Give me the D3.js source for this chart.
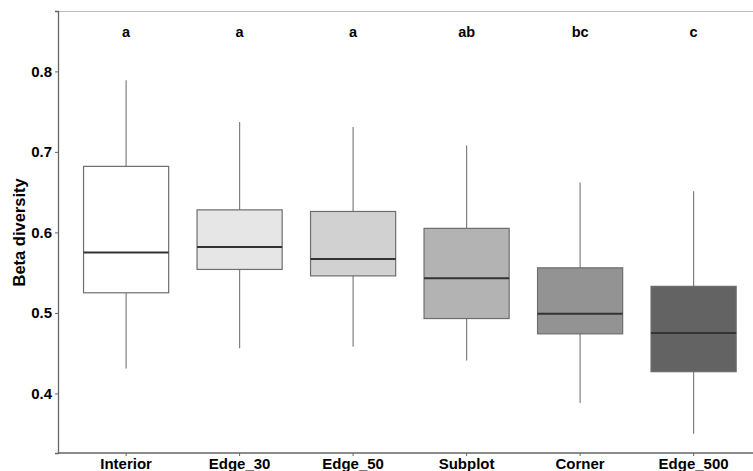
<!DOCTYPE html>
<html>
<head>
<meta charset="utf-8">
<script src="https://d3js.org/d3.v7.min.js"></script>
<style>
  body { margin: 0; background: #fff; }
  text { font-family: "Liberation Sans", Arial, sans-serif; font-weight: bold; fill: #000; }
</style>
</head>
<body>
<div id="my_dataviz"></div>
<script>
// data
var groups  = ["Interior", "Edge_30", "Edge_50", "Subplot", "Corner", "Edge_500"];
var lowers  = [0.431, 0.456, 0.458, 0.441, 0.388, 0.350];
var q1s     = [0.525, 0.554, 0.546, 0.493, 0.474, 0.427];
var medians = [0.575, 0.582, 0.567, 0.543, 0.499, 0.475];
var q3s     = [0.682, 0.628, 0.626, 0.605, 0.556, 0.533];
var uppers  = [0.789, 0.737, 0.731, 0.708, 0.662, 0.651];
var letters = ["a", "a", "a", "ab", "bc", "c"];
var fills   = ["#ffffff", "#e6e6e6", "#d1d1d1", "#b3b3b3", "#939393", "#636363"];
var yTicks  = [0.4, 0.5, 0.6, 0.7, 0.8];

var W = 753, H = 471;
var margin = {top: 11, left: 58, bottom: 18};
var step = 113.5;
var plotW = step * 6.2, plotH = H - margin.top - margin.bottom;

var svg = d3.select("#my_dataviz").append("svg")
  .attr("width", W).attr("height", H);

var g = svg.append("g")
  .attr("transform", "translate(" + margin.left + "," + margin.top + ")");

// ggplot style: 0.6 units before the first centre
var x = d3.scaleBand()
  .domain(groups)
  .range([0.1 * step, plotW - 0.1 * step])
  .padding(0);

var y = d3.scaleLinear()
  .domain([0.326, 0.875])
  .range([plotH, 0]);

var data = groups.map(function(d, i) {
  return {name: d, lo: lowers[i], q1: q1s[i], med: medians[i], q3: q3s[i], hi: uppers[i], lab: letters[i], fill: fills[i]};
});

// top border
g.append("line")
  .attr("x1", 0).attr("x2", plotW)
  .attr("y1", 0.5).attr("y2", 0.5)
  .attr("stroke", "#bdbdbd").attr("stroke-width", 1);

var bw = x.bandwidth() * 0.75;

var box = g.selectAll(".box").data(data).enter().append("g").attr("class", "box");

box.append("line")
  .attr("x1", function(d) { return x(d.name) + x.bandwidth() / 2; })
  .attr("x2", function(d) { return x(d.name) + x.bandwidth() / 2; })
  .attr("y1", function(d) { return y(d.hi); })
  .attr("y2", function(d) { return y(d.lo); })
  .attr("stroke", "#808080").attr("stroke-width", 1.2);

box.append("rect")
  .attr("x", function(d) { return x(d.name) + (x.bandwidth() - bw) / 2; })
  .attr("width", bw)
  .attr("y", function(d) { return y(d.q3); })
  .attr("height", function(d) { return y(d.q1) - y(d.q3); })
  .attr("fill", function(d) { return d.fill; })
  .attr("stroke", "#6e6e6e").attr("stroke-width", 1.2);

box.append("line")
  .attr("x1", function(d) { return x(d.name) + (x.bandwidth() - bw) / 2; })
  .attr("x2", function(d) { return x(d.name) + (x.bandwidth() + bw) / 2; })
  .attr("y1", function(d) { return y(d.med); })
  .attr("y2", function(d) { return y(d.med); })
  .attr("stroke", "#333").attr("stroke-width", 2);

box.append("text")
  .attr("x", function(d) { return x(d.name) + x.bandwidth() / 2; })
  .attr("y", 26)
  .attr("text-anchor", "middle")
  .style("font-size", "14.5px")
  .text(function(d) { return d.lab; });

// axes
var yAxis = g.append("g")
  .call(d3.axisLeft(y).tickValues(yTicks).tickFormat(d3.format(".1f")).tickSize(3).tickPadding(3));
yAxis.select(".domain").attr("stroke", "#666").attr("stroke-width", 1.3);
yAxis.selectAll(".tick line").attr("stroke", "#666");
yAxis.selectAll(".tick text").style("font-size", "15px").style("font-family", "Liberation Sans, Arial, sans-serif").attr("fill", "#000");

var xAxis = g.append("g")
  .attr("transform", "translate(0," + plotH + ")")
  .call(d3.axisBottom(x).tickSize(3).tickPadding(2));
xAxis.select(".domain").attr("stroke", "#666").attr("stroke-width", 1.3)
  .attr("d", "M0,0H" + plotW);
xAxis.selectAll(".tick line").attr("stroke", "#666");
xAxis.selectAll(".tick text").style("font-size", "15px").style("font-family", "Liberation Sans, Arial, sans-serif").attr("fill", "#000");

// y title
svg.append("text")
  .attr("transform", "translate(25," + (margin.top + y(0.6)) + ") rotate(-90)")
  .attr("text-anchor", "middle")
  .style("font-size", "16.5px")
  .text("Beta diversity");
</script>
</body>
</html>
